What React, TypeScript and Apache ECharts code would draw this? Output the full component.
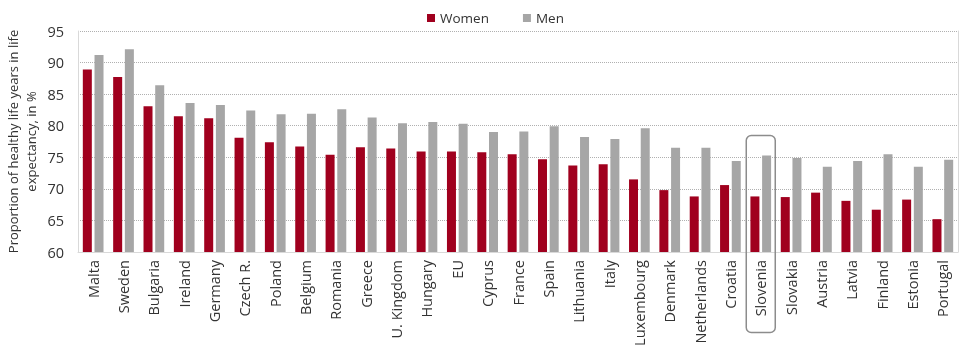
import React, { useEffect, useRef } from "react";
import * as echarts from "echarts";

const categories = [
  "Malta", "Sweden", "Bulgaria", "Ireland", "Germany", "Czech R.", "Poland", "Belgium",
  "Romania", "Greece", "U. Kingdom", "Hungary", "EU", "Cyprus", "France", "Spain",
  "Lithuania", "Italy", "Luxembourg", "Denmark", "Netherlands", "Croatia", "Slovenia",
  "Slovakia", "Austria", "Latvia", "Finland", "Estonia", "Portugal",
];
const women = [
  88.9, 87.7, 83.1, 81.5, 81.2, 78.1, 77.4, 76.7, 75.4, 76.6, 76.4, 75.9, 75.9, 75.8,
  75.5, 74.7, 73.7, 73.9, 71.5, 69.8, 68.8, 70.6, 68.8, 68.7, 69.4, 68.1, 66.7, 68.3, 65.2,
];
const men = [
  91.2, 92.1, 86.4, 83.6, 83.3, 82.4, 81.8, 81.9, 82.6, 81.3, 80.4, 80.6, 80.3, 79.0,
  79.1, 79.9, 78.2, 77.9, 79.6, 76.5, 76.5, 74.4, 75.3, 74.9, 73.5, 74.4, 75.5, 73.5, 74.6,
];
const highlighted = "Slovenia";

const FONT = "'Open Sans', 'Noto Sans', sans-serif";

export default function App() {
  const ref = useRef<HTMLDivElement>(null);
  useEffect(() => {
    if (!ref.current) return;
    const chart = echarts.init(ref.current, undefined, { renderer: "svg" });
    chart.setOption({
      animation: false,
      textStyle: { fontFamily: FONT },
      legend: {
        top: 6,
        left: 422,
        itemWidth: 8,
        itemHeight: 8,
        itemGap: 34,
        icon: "rect",
        textStyle: { fontFamily: FONT, fontSize: 13.5, color: "#333" },
        data: ["Women", "Men"],
      },
      grid: {
        left: 78,
        right: 2,
        top: 31,
        bottom: 99,
        containLabel: false,
        outerBoundsMode: "none",
      },
      xAxis: {
        type: "category",
        data: categories,
        axisLine: { lineStyle: { color: "#d9d9d9" } },
        axisTick: { show: false },
        axisLabel: {
          rotate: 90,
          interval: 0,
          fontSize: 14.5,
          color: "#333",
          fontFamily: FONT,
          margin: 8,
        },
      },
      yAxis: [
        {
          type: "value",
          min: 60,
          max: 95,
          interval: 5,
          name: "Proportion of healthy life years in life\nexpectancy, in %",
          nameLocation: "middle",
          nameGap: 38,
          nameRotate: 90,
          nameMoveOverlap: false,
          nameTextStyle: { fontFamily: FONT, fontSize: 13, color: "#333", lineHeight: 18 },
          axisLine: { show: true, lineStyle: { color: "#d9d9d9" } },
          axisTick: { show: false },
          axisLabel: { fontSize: 14.5, color: "#333", fontFamily: FONT, margin: 14 },
          splitLine: { lineStyle: { color: "#b0b0b0", type: "dotted", width: 1 } },
        },
        {
          type: "value",
          min: 60,
          max: 95,
          interval: 5,
          position: "right",
          axisLine: { show: true, lineStyle: { color: "#d9d9d9" } },
          axisTick: { show: false },
          axisLabel: { show: false },
          splitLine: { show: false },
        },
      ],
      series: [
        {
          name: "Women",
          type: "bar",
          data: women,
          barWidth: 9,
          barGap: "30%",
          itemStyle: { color: "#a0001e" },
        },
        {
          name: "Men",
          type: "bar",
          data: men,
          barWidth: 9,
          barGap: "30%",
          itemStyle: { color: "#a6a6a6" },
        },
      ],
    });
    const cx = chart.convertToPixel({ xAxisIndex: 0 }, highlighted) as number;
    chart.setOption({
      graphic: [
        {
          type: "rect",
          shape: { x: cx - 14.5, y: 135.5, width: 29, height: 197, r: 5 },
          style: { fill: "none", stroke: "#8c8c8c", lineWidth: 1.5 },
          z: 100,
        },
      ],
    });
    return () => chart.dispose();
  }, []);
  return (
    <div
      ref={ref}
      style={{ position: "fixed", left: 0, top: 0, width: 960, height: 351 }}
    />
  );
}
